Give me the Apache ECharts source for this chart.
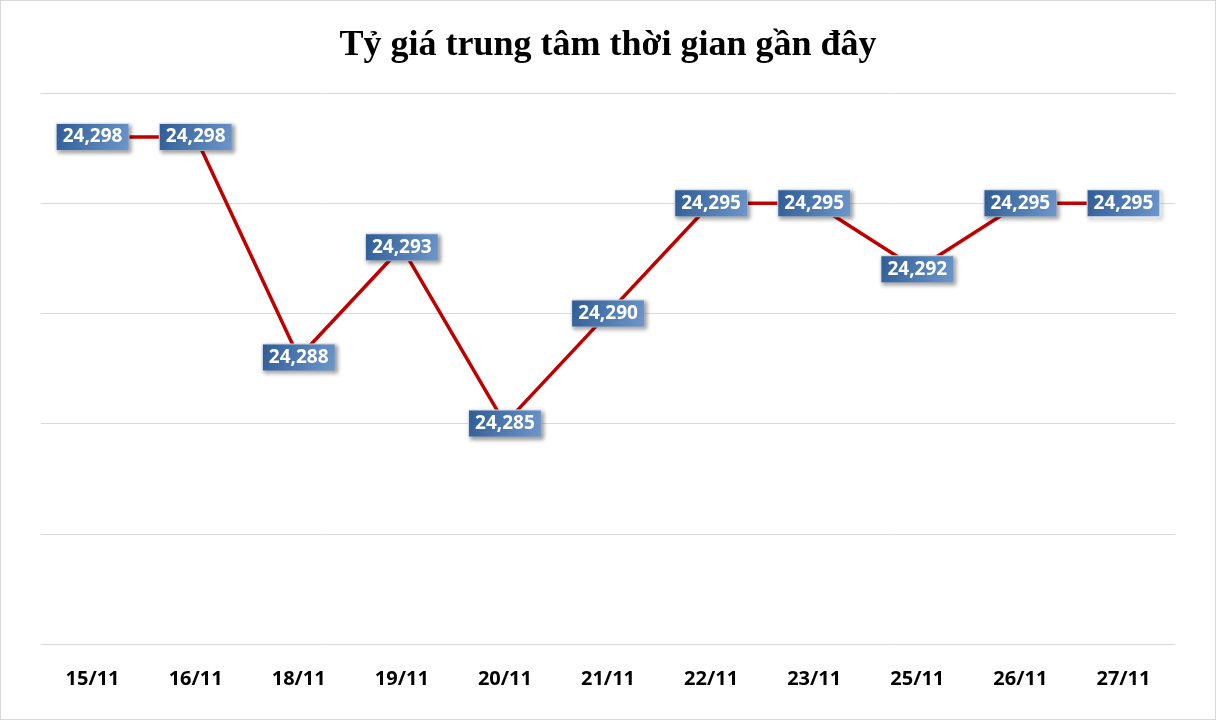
<!DOCTYPE html>
<html><head><meta charset="utf-8">
<script src="https://cdn.jsdelivr.net/npm/echarts@6/dist/echarts.min.js"></script>
<style>html,body{margin:0;background:#fff}#c{width:1216px;height:720px;box-sizing:border-box;border:1px solid #d9d9d9}</style>
</head><body><div id="c"></div>
<script>
const dates = ['15/11', '16/11', '18/11', '19/11', '20/11', '21/11', '22/11', '23/11', '25/11', '26/11', '27/11'];
const rates = [24298, 24298, 24288, 24293, 24285, 24290, 24295, 24295, 24292, 24295, 24295];

const chart = echarts.init(document.getElementById('c'));
chart.setOption({
  backgroundColor: '#fff',
  title: {
    text: 'Tỷ giá trung tâm thời gian gần đây',
    left: 'center', top: 22,
    textStyle: { fontFamily: 'Liberation Serif', fontWeight: 'bold', fontSize: 36, color: '#000' },
  },
  grid: { left: 40, right: 40, top: 92, bottom: 75 },
  xAxis: {
    type: 'category',
    data: dates,
    axisLine: { show: false },
    axisTick: { show: false },
    axisLabel: { color: '#000', fontWeight: 'bold', fontSize: 20, fontFamily: 'Open Sans', margin: 25 },
  },
  yAxis: {
    type: 'value', min: 24275, max: 24300, interval: 5,
    axisLabel: { show: false },
    splitLine: { lineStyle: { color: '#d9d9d9' } },
  },
  series: [{
    type: 'line',
    data: rates,
    symbol: 'circle',
    symbolSize: 1,
    showSymbol: true,
    itemStyle: { color: '#c00000' },
    lineStyle: { color: '#c00000', width: 3.5 },
    label: {
      show: true, position: 'inside',
      formatter: p => p.value.toLocaleString('en-US'),
      color: '#fff', fontWeight: 'bold', fontSize: 19, fontFamily: 'Open Sans',
      padding: [4, 6, 3, 6],
      backgroundColor: new echarts.graphic.LinearGradient(0, 0, 1, 1, [
        { offset: 0, color: '#2e5b94' }, { offset: 1, color: '#6e98cc' },
      ]),
      borderColor: '#dfe8f3', borderWidth: 1,
      shadowColor: 'rgba(0,0,0,0.35)', shadowBlur: 4, shadowOffsetX: 2, shadowOffsetY: 2,
    },
  }],
});
</script></body></html>
